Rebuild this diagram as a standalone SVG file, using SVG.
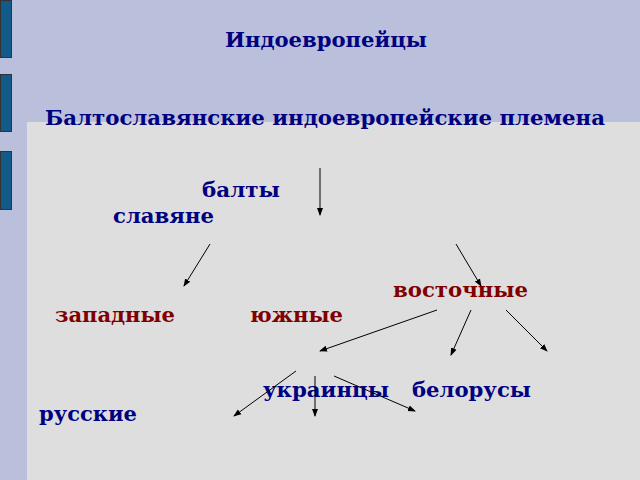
<svg xmlns="http://www.w3.org/2000/svg" width="640" height="480" viewBox="0 0 640 480">
<defs>
<marker id="ah" markerWidth="8" markerHeight="8" refX="7" refY="4" orient="auto" markerUnits="userSpaceOnUse"><path d="M0,1 L8,4 L0,7 Z" fill="#000"/></marker>
<style>
text{font-family:"DejaVu Serif","Liberation Serif",serif;font-weight:bold;font-size:20px}
.b{fill:#000080}.r{fill:#800000}
line{stroke:#000;stroke-width:1;marker-end:url(#ah)}
.bar{fill:#115a8a;stroke:#333;stroke-width:1}
</style>
</defs>
<rect width="640" height="480" fill="#babfdb"/>
<rect x="27" y="122" width="613" height="358" fill="#dedede"/>
<rect class="bar" x="0.5" y="0.5" width="11" height="57"/>
<rect class="bar" x="0.5" y="74.5" width="11" height="57"/>
<rect class="bar" x="0.5" y="151.5" width="11" height="58"/>
<g id="title"><text class="b" x="225" y="47" textLength="202" lengthAdjust="spacingAndGlyphs">Индоевропейцы</text></g>
<g id="subtitle"><text class="b" x="45" y="125" textLength="560" lengthAdjust="spacingAndGlyphs">Балтославянские индоевропейские племена</text></g>
<g id="balty"><text class="b" x="202" y="197" textLength="78" lengthAdjust="spacingAndGlyphs">балты</text></g>
<g id="slavyane"><text class="b" x="113" y="223" textLength="101" lengthAdjust="spacingAndGlyphs">славяне</text></g>
<g id="vostochnye"><text class="r" x="393" y="297" textLength="135" lengthAdjust="spacingAndGlyphs">восточные</text></g>
<g id="zapadnye"><text class="r" x="55" y="322" textLength="120" lengthAdjust="spacingAndGlyphs">западные</text></g>
<g id="yuzhnye"><text class="r" x="250" y="322" textLength="93" lengthAdjust="spacingAndGlyphs">южные</text></g>
<g id="ukraintsy"><text class="b" x="263" y="397" textLength="126" lengthAdjust="spacingAndGlyphs">украинцы</text></g>
<g id="belorusy"><text class="b" x="412" y="397" textLength="119" lengthAdjust="spacingAndGlyphs">белорусы</text></g>
<g id="russkie"><text class="b" x="39" y="421" textLength="98" lengthAdjust="spacingAndGlyphs">русские</text></g>
<g id="connectors">
<line x1="320" y1="168" x2="320" y2="215"/>
<line x1="210" y1="244" x2="184" y2="286"/>
<line x1="456" y1="244" x2="481" y2="286"/>
<line x1="437" y1="310" x2="320" y2="351"/>
<line x1="471" y1="310" x2="451" y2="355"/>
<line x1="506" y1="310" x2="547" y2="351"/>
<line x1="296" y1="371" x2="234" y2="416"/>
<line x1="315" y1="376" x2="315" y2="416"/>
<line x1="334" y1="376" x2="415" y2="411"/>
</g>
</svg>
